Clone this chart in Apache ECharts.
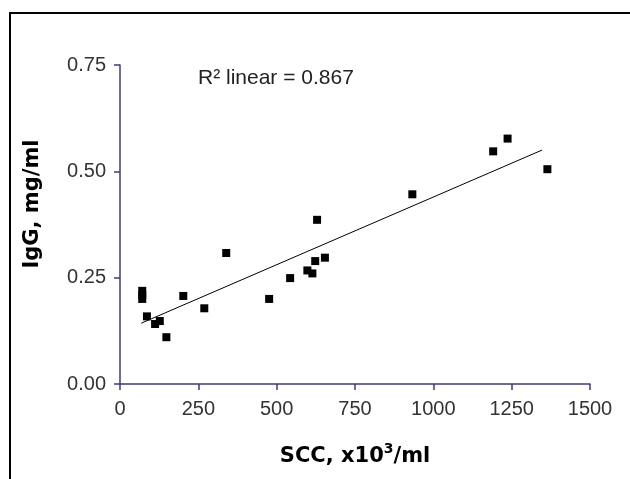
<!DOCTYPE html>
<html>
<head>
<meta charset="utf-8">
<script src="https://cdn.jsdelivr.net/npm/echarts@6/dist/echarts.min.js"></script>
<style>html,body{margin:0;padding:0;background:#fff;}#c{width:630px;height:479px;}</style>
</head>
<body>
<div id="c"></div>
<script>
var sccValues = [71, 71, 71, 86, 112, 127, 148, 202, 269, 339, 476, 543, 598, 614, 623, 629, 654, 933, 1191, 1237, 1364];
var iggValues = [0.219, 0.209, 0.200, 0.159, 0.141, 0.148, 0.110, 0.207, 0.178, 0.308, 0.200, 0.249, 0.267, 0.260, 0.289, 0.386, 0.297, 0.446, 0.547, 0.577, 0.505];
var fitX = [68, 1347];
var fitY = [0.143, 0.550];
var xTicks = [0, 250, 500, 750, 1000, 1250, 1500];
var yTicks = [0, 0.25, 0.5, 0.75];

var pts = sccValues.map(function (x, i) { return [x, iggValues[i]]; });
var fit = fitX.map(function (x, i) { return [x, fitY[i]]; });
var axisCol = '#3a3a8a';
var BOLD = '"DejaVu Sans", sans-serif';
var FONT = '"Liberation Sans", Arial, sans-serif';
var chart = echarts.init(document.getElementById('c'), null, {renderer: 'canvas'});
chart.setOption({
  animation: false,
  backgroundColor: '#fff',
  grid: {left: 120, right: 40, top: 65, bottom: 95},
  graphic: [
    {type: 'rect', shape: {x: 10, y: 13, width: 640, height: 500}, style: {fill: 'none', stroke: '#000', lineWidth: 2}, silent: true},
    {type: 'text', x: 198, y: 78, style: {text: 'R\u00b2 linear = 0.867', fontSize: 21, fontFamily: FONT, fill: '#222', verticalAlign: 'middle'}},
    {type: 'text', x: 33, y: 204, rotation: Math.PI / 2, style: {text: 'IgG, mg/ml', fontSize: 21, fontWeight: 'bold', fontFamily: BOLD, fill: '#000', align: 'center', verticalAlign: 'middle'}},
    {type: 'text', x: 355, y: 457, style: {
      text: '{m|SCC, x10}{sup|3}{m|/ml}', align: 'center', verticalAlign: 'middle',
      rich: {
        m: {fontSize: 21, fontWeight: 'bold', fontFamily: BOLD, fill: '#000', lineHeight: 30, verticalAlign: 'middle'},
        sup: {fontSize: 14, fontWeight: 'bold', fontFamily: BOLD, fill: '#000', lineHeight: 14, verticalAlign: 'top'}
      }
    }}
  ],
  xAxis: {
    type: 'value', min: xTicks[0], max: xTicks[xTicks.length - 1], interval: 250,
    axisLine: {lineStyle: {color: axisCol, width: 1.5}},
    axisTick: {show: true, length: 6, lineStyle: {color: axisCol, width: 1.5}},
    splitLine: {show: false},
    axisLabel: {color: '#333', fontSize: 20, fontFamily: FONT, margin: 15,
      formatter: function (v) { return String(v); }}
  },
  yAxis: {
    type: 'value', min: yTicks[0], max: yTicks[yTicks.length - 1], interval: 0.25,
    axisLine: {show: true, lineStyle: {color: axisCol, width: 1.5}},
    axisTick: {show: true, length: 6, lineStyle: {color: axisCol, width: 1.5}},
    splitLine: {show: false},
    axisLabel: {color: '#333', fontSize: 20, fontFamily: FONT, margin: 14,
      formatter: function (v) { return v.toFixed(2); }}
  },
  series: [
    {type: 'line', data: fit, symbol: 'none', lineStyle: {color: '#000', width: 1}, z: 2},
    {type: 'scatter', data: pts, symbol: 'rect', symbolSize: 8, itemStyle: {color: '#000', opacity: 1}, z: 3}
  ]
});
</script>
</body>
</html>
